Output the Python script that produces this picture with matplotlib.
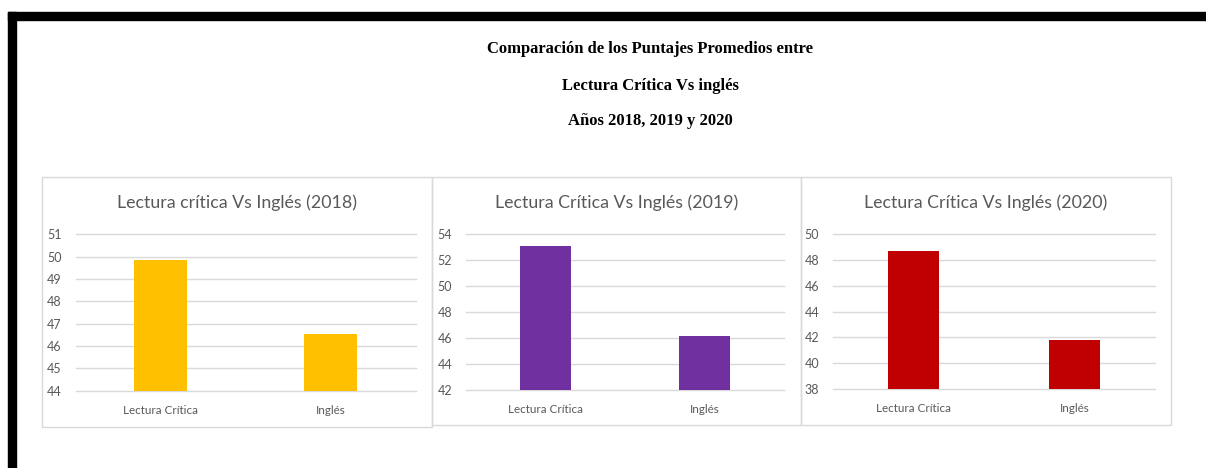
import matplotlib
matplotlib.use("Agg")
import matplotlib.pyplot as plt
from matplotlib.patches import Rectangle

W, H = 1206, 468

categories = ["Lectura Crítica", "Inglés"]
years = ["2018", "2019", "2020"]
chart_titles = ["Lectura crítica Vs Inglés (2018)",
                "Lectura Crítica Vs Inglés (2019)",
                "Lectura Crítica Vs Inglés (2020)"]
vals_2018 = [49.84, 46.52]
vals_2019 = [53.07, 46.12]
vals_2020 = [48.73, 41.80]
ylims = [(44, 51), (42, 54), (38, 50)]
ysteps = [1, 2, 2]
colors = ["#FFC000", "#7030A0", "#C00000"]

main_title = ["Comparación de los Puntajes Promedios entre",
              "Lectura Crítica Vs inglés",
              "Años 2018, 2019 y 2020"]
title_rows = [49, 86, 121]

fig = plt.figure(figsize=(W / 100, H / 100), dpi=100)
fig.patch.set_facecolor("white")


def px(x0, y0, x1, y1):
    # pixel box (top-left origin) -> figure fraction rect
    return [x0 / W, 1 - y1 / H, (x1 - x0) / W, (y1 - y0) / H]


# black frame (top and left)
fig.patches.append(Rectangle((8 / W, 1 - 20 / H), 1 - 8 / W, 8 / H,
                             transform=fig.transFigure, color="black", zorder=5))
fig.patches.append(Rectangle((8 / W, 0), 8 / W, 1 - 12 / H,
                             transform=fig.transFigure, color="black", zorder=5))

for line, yy in zip(main_title, title_rows):
    fig.text(650 / W, 1 - yy / H, line, ha="center", va="center",
             fontsize=12, fontweight="bold", family="Liberation Serif")

panels = [(42, 177, 432, 427), (432, 177, 801, 425), (801, 177, 1171, 425)]
plot_boxes = [(75.7, 234.3, 415.7, 390.7), (466, 234.3, 784, 389.7), (833, 234.3, 1155, 389)]
series = [vals_2018, vals_2019, vals_2020]

for k in range(3):
    x0, y0, x1, y1 = panels[k]
    r = px(x0, y0, x1, y1)
    fig.patches.append(Rectangle((r[0], r[1]), r[2], r[3], transform=fig.transFigure,
                                 fill=False, edgecolor="#D9D9D9", linewidth=1))
    fig.text((x0 + x1) / 2 / W, 1 - 203 / H, chart_titles[k], ha="center", va="center",
             fontsize=12.8, color="#595959", family="Lato")

    ax = fig.add_axes(px(*plot_boxes[k]))
    ax.bar(range(len(categories)), series[k], width=0.315, color=colors[k], zorder=3)
    lo, hi = ylims[k]
    ax.set_ylim(lo, hi)
    ax.set_xlim(-0.5, 1.5)
    ax.set_yticks(range(lo, hi + 1, ysteps[k]))
    ax.set_xticks(range(len(categories)))
    ax.set_xticklabels(categories)
    for s in ax.spines.values():
        s.set_visible(False)
    ax.yaxis.grid(True, color="#D9D9D9", linewidth=1)
    for gl in ax.get_ygridlines():
        gl.set_clip_on(False)
    ax.set_axisbelow(True)
    ax.tick_params(length=0, labelsize=9, labelcolor="#595959")
    ax.tick_params(axis="y", pad=10)
    ax.tick_params(axis="x", pad=10, labelsize=8.4)
    for t in ax.get_xticklabels() + ax.get_yticklabels():
        t.set_family("Lato")
    ax.set_facecolor("none")

fig.savefig("out.png", dpi=100)
